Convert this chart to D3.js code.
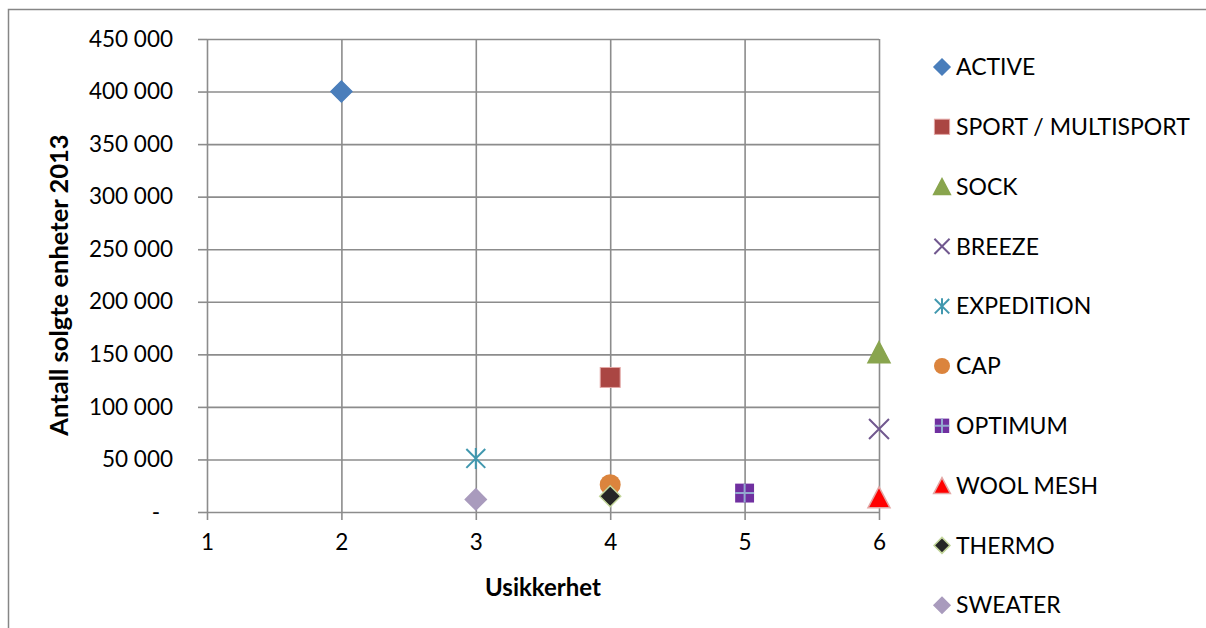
<!DOCTYPE html>
<html>
<head>
<meta charset="utf-8">
<script src="https://cdn.jsdelivr.net/npm/d3@7"></script>
<style>
  html, body { margin: 0; padding: 0; background: #fff; }
  svg { display: block; font-family: Lato, "Open Sans", sans-serif; }
</style>
</head>
<body>
<svg id="chart" width="1206" height="628"></svg>
<script>
// Product groups, their uncertainty score and units sold in 2013
const products = ["ACTIVE", "SPORT / MULTISPORT", "SOCK", "BREEZE", "EXPEDITION",
                  "CAP", "OPTIMUM", "WOOL MESH", "THERMO", "SWEATER"];
const uncertainty = [2, 4, 6, 6, 3, 4, 5, 6, 4, 3];
const unitsSold = [400000, 128000, 152000, 79000, 51000, 26000, 18000, 14000, 15000, 12000];

const xTicks = [1, 2, 3, 4, 5, 6];
const yTicks = [0, 50000, 100000, 150000, 200000, 250000, 300000, 350000, 400000, 450000];

// Marker appearance per series
const markerStyle = [
  { shape: "diamond",  fill: "#4a7ebb", stroke: "#4a7ebb" },
  { shape: "square",   fill: "#aa4643", stroke: "#e3a7a5" },
  { shape: "triangle", fill: "#89a54e", stroke: "#89a54e" },
  { shape: "x",        fill: "none",    stroke: "#71588f" },
  { shape: "asterisk", fill: "none",    stroke: "#4198af" },
  { shape: "circle",   fill: "#db843d", stroke: "#db843d" },
  { shape: "plus-sq",  fill: "#7030a0", stroke: "#93a9cf" },
  { shape: "triangle", fill: "#ff0000", stroke: "#e3a7a5" },
  { shape: "diamond",  fill: "#262626", stroke: "#c3d69b" },
  { shape: "diamond",  fill: "#a99bbd", stroke: "#a99bbd" }
];

const svg = d3.select("#chart");

// Outer frame
svg.append("path")
  .attr("d", "M8.5,640 L8.5,9.5 L1220,9.5")
  .attr("fill", "none").attr("stroke", "#868686").attr("stroke-width", 1.5);

const x = d3.scaleLinear().domain([1, 6]).range([207, 879]);
const y = d3.scaleLinear().domain([0, 450000]).range([512, 39]);

const gridColor = "#8c8c8c";
const tickFont = "22.5px";
const fmt = v => v === 0 ? "-" : d3.format(",")(v).replace(/,/g, " ");

// Horizontal gridlines + y axis
const yAxis = d3.axisLeft(y).tickValues(yTicks).tickSize(9).tickPadding(22).tickFormat(fmt);
const gy = svg.append("g").attr("transform", `translate(${x(1)},0)`).call(yAxis);
gy.select(".domain").remove();
gy.selectAll(".tick line").attr("stroke", gridColor).attr("stroke-width", 1.6);
gy.selectAll(".tick").append("line")
  .attr("x1", 0).attr("x2", x(6) - x(1))
  .attr("stroke", gridColor).attr("stroke-width", 1.6);
gy.selectAll(".tick text")
  .attr("fill", "#000").style("font-size", tickFont).style("font-family", "Lato, sans-serif")
  .attr("x", d => d === 0 ? -47 : -34);

// Vertical gridlines + x axis
const xAxis = d3.axisBottom(x).tickValues(xTicks).tickSize(8).tickPadding(14).tickFormat(d3.format("d"));
const gx = svg.append("g").attr("transform", `translate(0,${y(0)})`).call(xAxis);
gx.select(".domain").remove();
gx.selectAll(".tick line").attr("stroke", gridColor).attr("stroke-width", 1.6);
gx.selectAll(".tick").append("line")
  .attr("y1", 0).attr("y2", y(450000) - y(0))
  .attr("stroke", gridColor).attr("stroke-width", 1.6);
gx.selectAll(".tick text")
  .attr("fill", "#000").style("font-size", tickFont).style("font-family", "Lato, sans-serif");

// Axis titles
svg.append("text")
  .attr("x", (x(1) + x(6)) / 2).attr("y", 596)
  .attr("text-anchor", "middle")
  .style("font-size", "24px").style("font-weight", "bold")
  .text("Usikkerhet");

svg.append("text")
  .attr("transform", "translate(68,285) rotate(-90)")
  .attr("text-anchor", "middle")
  .style("font-size", "25.5px").style("font-weight", "bold")
  .text("Antall solgte enheter 2013");

// Draw a marker of a given style centred at the origin of group g
function drawMarker(g, st, s) {
  const h = s / 2;
  if (st.shape === "diamond") {
    g.append("path").attr("d", `M0,${-h} L${h},0 L0,${h} L${-h},0 Z`)
      .attr("fill", st.fill).attr("stroke", st.stroke).attr("stroke-width", 1.5);
  } else if (st.shape === "square") {
    const q = h * 0.95;
    g.append("rect").attr("x", -q).attr("y", -q).attr("width", 2 * q).attr("height", 2 * q)
      .attr("fill", st.fill).attr("stroke", st.stroke).attr("stroke-width", 1);
  } else if (st.shape === "triangle") {
    g.append("path").attr("d", `M0,${-h} L${h * 1.05},${h} L${-h * 1.05},${h} Z`)
      .attr("fill", st.fill).attr("stroke", st.stroke).attr("stroke-width", 1.5);
  } else if (st.shape === "circle") {
    g.append("circle").attr("r", h).attr("fill", st.fill);
  } else if (st.shape === "x") {
    const q = h * 0.95;
    g.append("path").attr("d", `M${-q},${-q} L${q},${q} M${-q},${q} L${q},${-q}`)
      .attr("stroke", st.stroke).attr("stroke-width", 2).attr("fill", "none");
  } else if (st.shape === "asterisk") {
    const q = h * 0.9;
    g.append("path").attr("d", `M${-q},${-q} L${q},${q} M${-q},${q} L${q},${-q} M0,${-h} L0,${h}`)
      .attr("stroke", st.stroke).attr("stroke-width", 2).attr("fill", "none");
  } else if (st.shape === "plus-sq") {
    const q = h * 0.9;
    g.append("rect").attr("x", -q).attr("y", -q).attr("width", 2 * q).attr("height", 2 * q)
      .attr("fill", st.fill);
    g.append("path").attr("d", `M${-q},0 L${q},0 M0,${-q} L0,${q}`)
      .attr("stroke", st.stroke).attr("stroke-width", 2);
  }
}

// Data points
const points = svg.append("g");
products.forEach((p, i) => {
  const g = points.append("g")
    .attr("transform", `translate(${x(uncertainty[i])},${y(unitsSold[i])})`);
  drawMarker(g, markerStyle[i], 21);
});

// Legend
const legend = svg.append("g");
products.forEach((p, i) => {
  const ly = 67 + i * 59.8;
  const g = legend.append("g").attr("transform", `translate(942,${ly})`);
  drawMarker(g, markerStyle[i], 16);
  legend.append("text")
    .attr("x", 956).attr("y", ly).attr("dy", "0.36em")
    .style("font-size", "23px")
    .text(p);
});
</script>
</body>
</html>
